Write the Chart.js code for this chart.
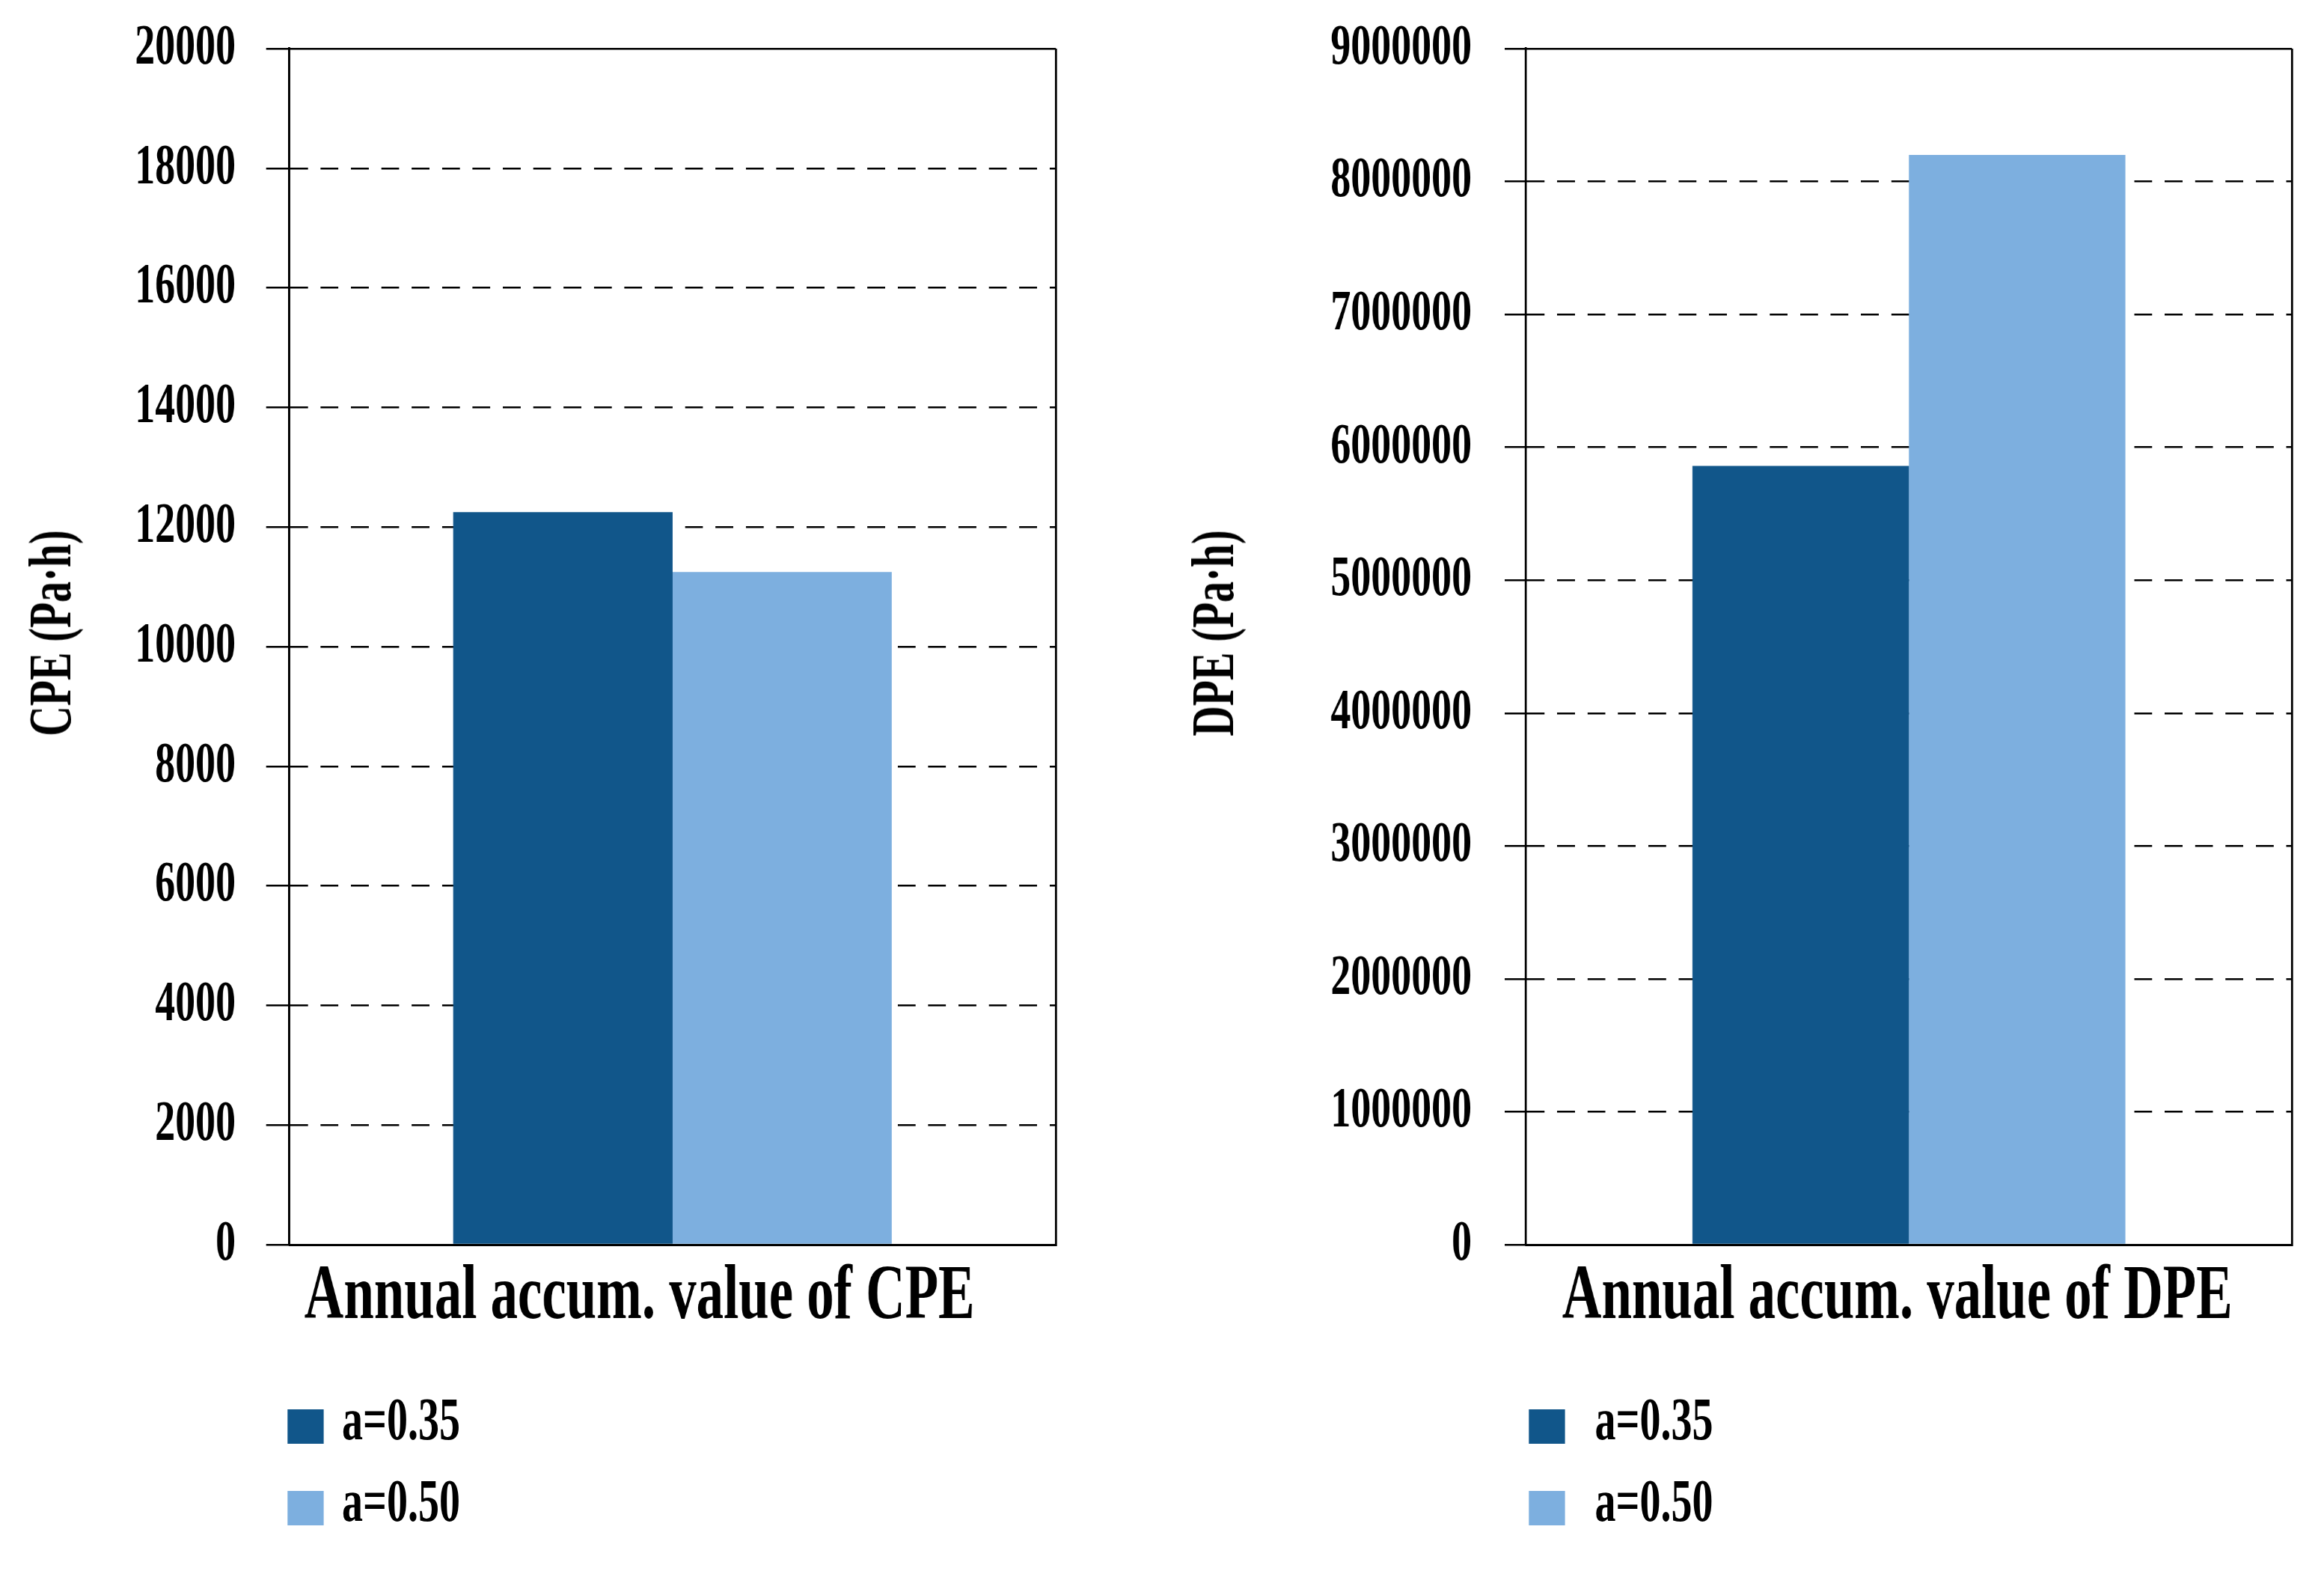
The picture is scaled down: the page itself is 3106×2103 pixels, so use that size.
<!DOCTYPE html>
<html>
<head>
<meta charset="utf-8">
<title>Annual accumulated CPE / DPE</title>
<script src="https://cdn.jsdelivr.net/npm/chart.js@4.4.1/dist/chart.umd.min.js"></script>
<style>
    html, body { margin: 0; padding: 0; background: #fff; width: 3106px; height: 2103px; overflow: hidden; }
    /* the source figure uses a condensed serif, so the whole drawing is squeezed horizontally */
    #squeeze { position: absolute; left: 0; top: 0; width: 4437px; height: 2103px; transform: scaleX(0.7); transform-origin: 0 0; }
    .panel { position: absolute; top: 0; width: 2218px; height: 1830px; }
    .legend { position: absolute; top: 1883px; font: bold 80px 'Liberation Serif', serif; color: #000; }
    .legend .item { position: absolute; left: 0; width: 600px; height: 46px; }
    .legend .box { position: absolute; left: 0; top: 0; width: 69px; height: 46px; }
    .legend .txt { position: absolute; top: -10px; line-height: 46px; white-space: nowrap; }
    .ytitle { position: absolute; font: bold 80px 'Liberation Serif', serif; line-height: 80px; color: #000;
              white-space: nowrap; transform: translate(-50%, -50%) rotate(-90deg) scaleX(0.7); }
</style>
</head>
<body>
<div id="squeeze">
    <div class="panel" style="left:0"><canvas id="cpeChart"></canvas></div>
    <div class="panel" style="left:2218px"><canvas id="dpeChart"></canvas></div>
    <div class="legend" id="cpeLegend" style="left:549px"></div>
    <div class="legend" id="dpeLegend" style="left:2919px"></div>
</div>
<div class="ytitle" style="left:67px; top:846px">CPE (Pa·h)</div>
<div class="ytitle" style="left:1621px; top:846px">DPE (Pa·h)</div>

<script>
const seriesLabels = ['a=0.35', 'a=0.50'];
const seriesColors = ['#11568A', '#7DAFDF'];

const cpeCategory = ['Annual accum. value of CPE'];
const cpeA035 = [12250];
const cpeA050 = [11250];
const cpeTicks = [0, 2000, 4000, 6000, 8000, 10000, 12000, 14000, 16000, 18000, 20000];

const dpeCategory = ['Annual accum. value of DPE'];
const dpeA035 = [5860000];
const dpeA050 = [8200000];
const dpeTicks = [0, 1000000, 2000000, 3000000, 4000000, 5000000, 6000000, 7000000, 8000000, 9000000];

const FONT = 'Liberation Serif';

function makeChart(id, labels, values, ticks, frame) {
    const top = ticks[ticks.length - 1];
    return new Chart(document.getElementById(id), {
        type: 'bar',
        data: {
            labels: labels,
            datasets: values.map((v, i) => ({
                label: seriesLabels[i],
                data: v,
                backgroundColor: seriesColors[i],
                borderWidth: 0,
                barPercentage: 1,
                categoryPercentage: frame.barShare
            }))
        },
        options: {
            responsive: true,
            maintainAspectRatio: false,
            animation: false,
            layout: { padding: { top: 65, right: frame.padRight, bottom: 0, left: 0 } },
            plugins: { legend: { display: false }, tooltip: { enabled: false } },
            scales: {
                x: {
                    grid: { color: '#000', lineWidth: 4, drawTicks: false },
                    border: { color: '#000', width: 3 },
                    ticks: {
                        color: '#000', padding: 9, labelOffset: frame.labelShift,
                        font: { family: FONT, size: 104, weight: 'bold' }
                    },
                    afterFit: (s) => { s.height = 167; }
                },
                y: {
                    min: 0,
                    max: top,
                    afterBuildTicks: (s) => { s.ticks = ticks.map(v => ({ value: v })); },
                    grid: { color: '#000', lineWidth: 2.5, tickLength: frame.tick, tickColor: '#000' },
                    border: {
                        color: '#000', width: 4,
                        dash: (c) => (c.tick && c.tick.value > 0 && c.tick.value < top) ? [34, 24] : []
                    },
                    ticks: {
                        color: '#000', padding: frame.gap,
                        font: { family: FONT, size: 77, weight: 'bold' },
                        callback: (v) => String(v)
                    },
                    afterFit: (s) => {
                        s.width = frame.yWidth;
                        // keep the plot frame where the figure has it
                        s.paddingTop = 0;
                        s.paddingBottom = 0;
                    }
                }
            }
        }
    });
}

function buildLegend(chart, el, textLeft) {
    chart.data.datasets.forEach((ds, i) => {
        const item = document.createElement('div');
        item.className = 'item';
        item.style.top = (i * 109) + 'px';
        item.innerHTML = `<span class="box" style="background:${ds.backgroundColor}"></span>` +
            `<span class="txt" style="left:${textLeft}px">${ds.label}</span>`;
        el.appendChild(item);
    });
}

const cpeChart = makeChart('cpeChart', cpeCategory, [cpeA035, cpeA050], cpeTicks,
    { yWidth: 552, padRight: 202, tick: 44, gap: 58, labelShift: -63, barShare: 0.572 });
const dpeChart = makeChart('dpeChart', dpeCategory, [dpeA035, dpeA050], dpeTicks,
    { yWidth: 695, padRight: 60, tick: 40, gap: 63, labelShift: -22, barShare: 0.565 });

buildLegend(cpeChart, document.getElementById('cpeLegend'), 104);
buildLegend(dpeChart, document.getElementById('dpeLegend'), 126);
</script>
</body>
</html>
